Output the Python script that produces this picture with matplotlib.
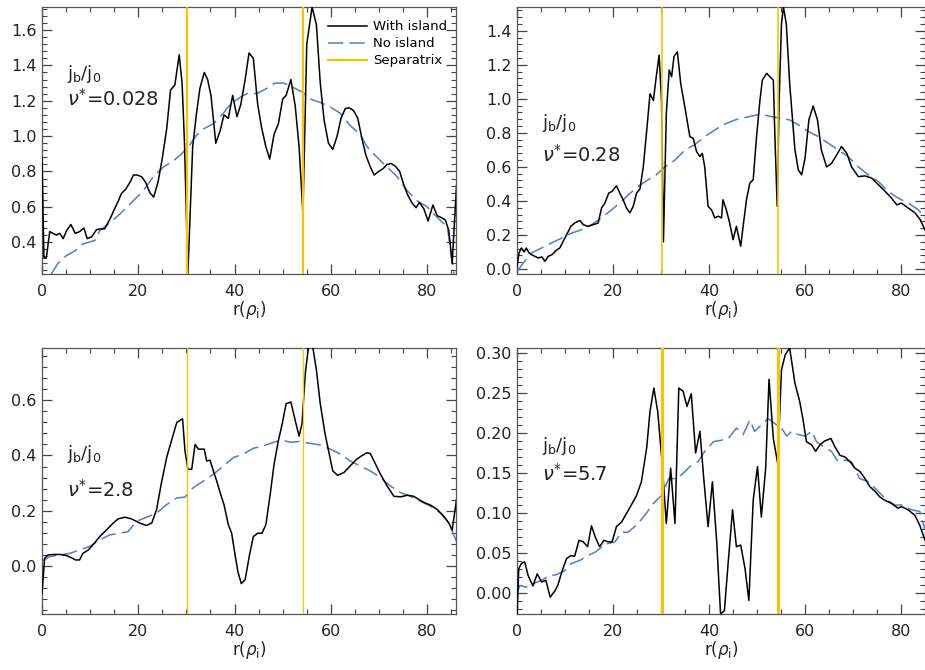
import numpy as np
import matplotlib
matplotlib.use("Agg")
import matplotlib.pyplot as plt
from matplotlib.ticker import MultipleLocator

# panel 1: nu* = 0.028
r1_with = [0, 0.4, 0.9, 1.6, 2.3, 3.0, 3.7, 4.4, 5.1, 6.0, 6.9, 7.8, 8.7, 9.4, 10.3, 11.3, 12.0, 13.0,
           14.1, 15.1, 15.8, 16.5, 17.4, 18.3, 19.0, 19.8, 20.7, 21.5, 22.4, 23.2, 24.1, 24.9, 25.9,
           26.7, 27.6, 28.5, 29.1, 29.6, 30.3, 31.3, 32.1, 32.8, 33.7, 34.4, 35.1, 36.1, 37.0, 37.8,
           38.7, 39.6, 40.5, 41.3, 42.2, 43.0, 43.9, 44.8, 45.6, 46.5, 47.3, 48.2, 49.1, 50.0, 50.7,
           51.7, 52.6, 53.4, 54.2, 55.0, 56.1, 57.0, 57.8, 58.6, 59.5, 60.4, 61.3, 62.1, 63.0, 63.8,
           64.7, 65.6, 66.5, 67.3, 68.2, 69.0, 69.9, 70.8, 71.7, 72.5, 73.4, 74.3, 75.2, 76.0, 76.9,
           77.7, 78.4, 79.3, 80.2, 81.2, 82.1, 82.9, 83.8, 84.5, 85.2, 86.1]
j1_with = [0.88, 0.31, 0.31, 0.46, 0.45, 0.44, 0.45, 0.42, 0.465, 0.50, 0.45, 0.46, 0.48, 0.42, 0.43,
           0.47, 0.475, 0.475, 0.53, 0.59, 0.63, 0.675, 0.70, 0.74, 0.78, 0.78, 0.77, 0.74, 0.68, 0.655,
           0.74, 0.86, 1.04, 1.26, 1.29, 1.46, 1.30, 0.96, 0.22, 0.94, 1.13, 1.27, 1.36, 1.32, 1.23,
           0.96, 1.03, 1.12, 1.10, 1.23, 1.11, 1.18, 1.32, 1.47, 1.44, 1.18, 1.05, 0.94, 0.87, 1.01,
           1.07, 1.21, 1.23, 1.32, 1.17, 0.94, 0.56, 1.52, 1.73, 1.63, 1.30, 1.09, 0.96, 0.925, 1.00,
           1.10, 1.156, 1.16, 1.145, 1.10, 0.98, 0.89, 0.825, 0.78, 0.80, 0.815, 0.84, 0.845, 0.83,
           0.80, 0.72, 0.665, 0.62, 0.595, 0.625, 0.59, 0.52, 0.61, 0.55, 0.54, 0.525, 0.465, 0.28, 0.72]
r1_no = [1.9, 3.3, 5.1, 6.8, 8.5, 11.0, 12.0, 14.1, 16.2, 19.0, 21.0, 23.1, 25.2, 27.3, 29.0, 30.7,
         32.1, 33.5, 35.6, 37.7, 39.1, 41.2, 42.9, 44.6, 46.7, 48.4, 50.2, 52.2, 54.0, 55.7, 57.8,
         59.9, 61.9, 64.0, 66.1, 67.5, 69.6, 71.7, 73.8, 75.9, 77.9, 80.0, 82.1, 84.2, 85.6]
j1_no = [0.22, 0.28, 0.325, 0.35, 0.39, 0.41, 0.466, 0.51, 0.56, 0.635, 0.69, 0.77, 0.825, 0.86, 0.90,
         0.95, 1.005, 1.04, 1.07, 1.13, 1.18, 1.22, 1.245, 1.24, 1.27, 1.30, 1.30, 1.275, 1.25, 1.21,
         1.19, 1.165, 1.13, 1.06, 1.01, 0.94, 0.88, 0.825, 0.77, 0.69, 0.635, 0.60, 0.54, 0.485, 0.22]

# panel 2: nu* = 0.28
r2_with = [0, 0.4, 0.9, 1.5, 1.9, 2.5, 3.0, 3.7, 4.4, 5.2, 5.8, 6.5, 7.3, 8.2, 8.9, 9.6, 10.3, 11.2,
           12.0, 13.1, 13.8, 14.8, 15.8, 16.9, 17.6, 18.3, 19.1, 19.8, 20.7, 21.4, 22.1, 22.8, 23.5,
           24.2, 24.9, 25.6, 26.3, 27.0, 27.7, 28.4, 29.0, 29.6, 30.1, 30.5, 31.1, 31.7, 32.2, 32.7,
           33.4, 34.1, 34.6, 35.3, 36.0, 36.7, 37.4, 38.1, 38.6, 39.1, 39.8, 40.5, 41.2, 41.9, 42.6,
           42.9, 43.6, 44.3, 45.0, 45.7, 46.6, 47.1, 47.8, 48.5, 49.2, 49.9, 50.6, 51.1, 52.0, 52.7,
           53.4, 53.7, 54.2, 54.6, 55.1, 55.5, 56.1, 56.8, 57.9, 58.6, 59.3, 60.0, 60.8, 61.7, 62.6,
           63.4, 64.5, 65.5, 66.6, 67.6, 68.7, 69.7, 71.1, 72.5, 73.9, 75.3, 76.7, 78.0, 79.1, 80.1,
           81.5, 82.9, 84.0, 85.0]
j2_with = [0.016, 0.094, 0.123, 0.10, 0.123, 0.094, 0.084, 0.074, 0.065, 0.070, 0.045, 0.074, 0.084,
           0.11, 0.123, 0.162, 0.20, 0.25, 0.27, 0.285, 0.26, 0.25, 0.26, 0.27, 0.358, 0.387, 0.446,
           0.456, 0.489, 0.446, 0.407, 0.358, 0.33, 0.368, 0.446, 0.47, 0.60, 0.81, 1.03, 0.99, 1.13,
           1.257, 0.99, 0.16, 0.915, 1.17, 1.13, 1.25, 1.277, 1.09, 1.01, 0.895, 0.778, 0.768, 0.69,
           0.66, 0.68, 0.60, 0.368, 0.348, 0.30, 0.31, 0.30, 0.407, 0.348, 0.27, 0.172, 0.25, 0.133,
           0.25, 0.407, 0.505, 0.524, 0.778, 0.99, 1.11, 1.15, 1.13, 1.11, 0.80, 0.368, 0.99, 1.443,
           1.54, 1.44, 1.09, 0.70, 0.583, 0.553, 0.65, 0.876, 0.958, 0.876, 0.70, 0.60, 0.62, 0.67,
           0.72, 0.68, 0.60, 0.543, 0.547, 0.534, 0.495, 0.456, 0.417, 0.377, 0.387, 0.358, 0.33,
           0.29, 0.23]
r2_no = [0, 1.3, 3.0, 5.1, 7.2, 9.2, 11.3, 13.4, 15.5, 17.6, 19.7, 21.4, 23.2, 25.2, 27.3, 29.0, 30.8,
         32.9, 35.0, 37.0, 39.1, 41.2, 42.9, 45.4, 48.2, 50.9, 53.0, 55.1, 56.8, 58.6, 60.7, 62.8,
         64.8, 66.9, 69.0, 71.1, 73.2, 75.3, 77.3, 79.4, 81.5, 83.6, 85.0]
j2_no = [-0.014, 0.035, 0.094, 0.123, 0.153, 0.18, 0.21, 0.23, 0.26, 0.30, 0.348, 0.387, 0.436, 0.485,
         0.524, 0.553, 0.60, 0.64, 0.70, 0.73, 0.778, 0.817, 0.847, 0.876, 0.895, 0.91, 0.895, 0.886,
         0.876, 0.847, 0.808, 0.778, 0.74, 0.70, 0.66, 0.60, 0.553, 0.514, 0.456, 0.417, 0.387, 0.348,
         0.30]

# panel 3: nu* = 2.8
r3_with = [0, 0.55, 1.25, 2.3, 3.7, 5.1, 6.1, 7.0, 7.8, 8.5, 9.6, 10.6, 12.0, 13.4, 14.8, 15.8, 17.2,
           18.6, 20.3, 21.7, 22.8, 23.8, 24.8, 25.9, 26.9, 28.0, 29.2, 29.7, 30.3, 31.1, 31.8, 32.5,
           33.2, 33.7, 34.2, 34.9, 35.6, 36.3, 37.0, 37.8, 38.7, 39.4, 40.1, 40.7, 41.4, 42.2, 43.1,
           43.9, 44.8, 45.7, 46.5, 47.4, 48.2, 49.1, 49.9, 50.7, 51.7, 52.6, 53.4, 54.0, 54.7, 55.4,
           56.1, 57.0, 57.8, 58.8, 60.4, 61.4, 62.7, 64.0, 65.4, 66.5, 67.5, 68.2, 69.3, 70.3, 71.7,
           73.1, 74.5, 75.9, 77.2, 78.3, 79.3, 80.7, 82.1, 83.5, 84.5, 85.2, 86.1]
j3_with = [-0.10, 0.027, 0.039, 0.041, 0.041, 0.037, 0.029, 0.021, 0.021, 0.045, 0.057, 0.076, 0.106,
           0.13, 0.155, 0.17, 0.176, 0.17, 0.155, 0.146, 0.155, 0.204, 0.30, 0.393, 0.454, 0.52, 0.533,
           0.417, 0.35, 0.35, 0.44, 0.423, 0.423, 0.423, 0.38, 0.383, 0.344, 0.307, 0.265, 0.222,
           0.149, 0.118, 0.039, -0.022, -0.065, -0.05, 0.039, 0.106, 0.118, 0.118, 0.149, 0.259,
           0.368, 0.454, 0.515, 0.588, 0.594, 0.527, 0.47, 0.515, 0.70, 0.80, 0.81, 0.71, 0.588,
           0.478, 0.344, 0.328, 0.338, 0.362, 0.387, 0.40, 0.41, 0.407, 0.368, 0.332, 0.289, 0.252,
           0.25, 0.256, 0.252, 0.24, 0.23, 0.22, 0.204, 0.179, 0.155, 0.13, 0.24]
r3_no = [0, 1.6, 3.7, 5.8, 7.8, 9.9, 12.0, 14.1, 16.2, 17.9, 19.6, 21.7, 23.8, 25.9, 28.0, 29.7, 31.4,
         33.5, 35.6, 37.7, 39.8, 41.8, 43.9, 46.0, 48.1, 49.8, 51.6, 53.6, 55.7, 57.8, 59.9, 62.0,
         64.0, 66.1, 68.2, 70.3, 72.4, 74.5, 76.5, 78.6, 80.7, 82.8, 84.5, 86.1]
j3_no = [0.018, 0.033, 0.039, 0.045, 0.057, 0.07, 0.094, 0.112, 0.118, 0.124, 0.161, 0.176, 0.191,
         0.222, 0.246, 0.249, 0.283, 0.307, 0.332, 0.362, 0.393, 0.405, 0.426, 0.435, 0.448, 0.456,
         0.448, 0.451, 0.444, 0.438, 0.423, 0.405, 0.38, 0.362, 0.344, 0.32, 0.289, 0.265, 0.252,
         0.234, 0.216, 0.191, 0.155, 0.088]

# panel 4: nu* = 5.7
r4_with = [0, 0.35, 0.9, 1.6, 2.3, 3.3, 4.2, 5.1, 6.0, 6.9, 7.9, 8.5, 9.4, 10.3, 11.2, 12.0, 12.9,
           13.8, 14.7, 15.5, 16.3, 17.2, 18.1, 19.0, 19.8, 20.7, 21.8, 22.8, 23.8, 24.9, 25.9, 27.0,
           27.7, 28.5, 29.3, 30.2, 31.1, 32.0, 32.9, 33.7, 34.6, 35.4, 36.3, 37.2, 38.1, 38.9, 39.8,
           40.7, 41.6, 42.4, 43.2, 44.0, 44.9, 45.7, 46.6, 47.5, 48.3, 49.2, 50.1, 50.9, 51.8, 52.5,
           53.4, 54.3, 55.1, 55.9, 56.8, 57.9, 58.9, 59.6, 60.3, 61.4, 62.2, 63.1, 64.1, 65.4, 66.2,
           67.3, 68.3, 69.4, 70.4, 71.4, 72.5, 73.5, 74.6, 75.6, 76.6, 78.0, 79.4, 80.1, 81.5, 82.9,
           83.9, 85.0]
j4_with = [-0.026, 0.0305, 0.037, 0.039, 0.022, 0.009, 0.024, 0.014, 0.016, -0.005, 0.003, 0.010,
           0.028, 0.043, 0.047, 0.046, 0.066, 0.064, 0.058, 0.084, 0.070, 0.058, 0.066, 0.064, 0.064,
           0.083, 0.089, 0.0995, 0.11, 0.122, 0.139, 0.181, 0.227, 0.256, 0.227, 0.164, 0.087, 0.156,
           0.087, 0.256, 0.252, 0.233, 0.249, 0.175, 0.202, 0.143, 0.083, 0.139, 0.064, -0.026,
           -0.022, 0.039, 0.104, 0.058, 0.060, 0.0305, -0.009, 0.116, 0.158, 0.095, 0.156, 0.267,
           0.193, 0.162, 0.279, 0.298, 0.306, 0.262, 0.239, 0.216, 0.189, 0.185, 0.177, 0.185, 0.190,
           0.193, 0.183, 0.172, 0.170, 0.164, 0.156, 0.152, 0.143, 0.133, 0.127, 0.120, 0.116, 0.112,
           0.106, 0.108, 0.104, 0.097, 0.085, 0.066]
r4_no = [0, 0.6, 1.9, 3.3, 5.1, 6.8, 8.2, 9.9, 11.3, 13.1, 14.8, 16.5, 18.3, 20.4, 21.8, 23.1, 24.9,
         26.6, 28.4, 30.1, 31.6, 33.2, 34.3, 36.0, 37.7, 39.1, 40.9, 42.6, 44.0, 45.7, 47.1, 48.5,
         49.5, 50.9, 52.3, 54.1, 55.1, 56.2, 57.2, 58.6, 60.0, 61.4, 62.4, 63.8, 65.5, 66.9, 68.3,
         69.7, 71.4, 73.2, 74.6, 76.7, 78.7, 80.1, 82.2, 83.9, 85.0]
j4_no = [0.001, 0.0096, 0.0075, 0.0117, 0.016, 0.022, 0.023, 0.028, 0.037, 0.041, 0.047, 0.052, 0.061,
         0.064, 0.076, 0.076, 0.085, 0.097, 0.112, 0.122, 0.143, 0.143, 0.148, 0.158, 0.164, 0.177,
         0.189, 0.191, 0.193, 0.206, 0.198, 0.216, 0.202, 0.21, 0.218, 0.21, 0.206, 0.196, 0.202,
         0.198, 0.196, 0.202, 0.189, 0.183, 0.177, 0.164, 0.166, 0.164, 0.143, 0.139, 0.131, 0.118,
         0.11, 0.11, 0.104, 0.102, 0.079]

separatrix = [30.2, 54.3]
nu_labels = ["0.028", "0.28", "2.8", "5.7"]

panels = [
    dict(rw=r1_with, jw=j1_with, rn=r1_no, jn=j1_no, xlim=(0, 86), ylim=(0.22, 1.73),
         ymaj=0.2, pos=[0.0454, 0.591, 0.4476, 0.3985], txt=(0.75, 0.655), slw=1.6),
    dict(rw=r2_with, jw=j2_with, rn=r2_no, jn=j2_no, xlim=(0, 85), ylim=(-0.03, 1.54),
         ymaj=0.2, pos=[0.559, 0.591, 0.441, 0.3985], txt=(0.565, 0.445), slw=1.2),
    dict(rw=r3_with, jw=j3_with, rn=r3_no, jn=j3_no, xlim=(0, 86), ylim=(-0.175, 0.79),
         ymaj=0.2, pos=[0.0454, 0.0836, 0.4476, 0.397], txt=(0.60, 0.465), slw=1.0),
    dict(rw=r4_with, jw=j4_with, rn=r4_no, jn=j4_no, xlim=(0, 85), ylim=(-0.026, 0.306),
         ymaj=0.05, pos=[0.559, 0.0836, 0.441, 0.397], txt=(0.63, 0.525), slw=2.2),
]

blue = '#4a80c8'
yellow = '#ffc000'

fig = plt.figure(figsize=(9.25, 6.7), dpi=100)

for i, p in enumerate(panels):
    ax = fig.add_axes(p['pos'])
    ax.plot(p['rw'], p['jw'], color='black', lw=1.1, label='With island', zorder=3)
    ax.plot(p['rn'], p['jn'], color=blue, lw=1.1, dashes=(10, 4), label='No island', zorder=2)
    for k, s in enumerate(separatrix):
        ax.axvline(s, color=yellow, lw=p['slw'], zorder=4,
                   label='Separatrix' if k == 0 else None)
    ax.set_xlim(*p['xlim'])
    ax.set_ylim(*p['ylim'])
    ax.xaxis.set_major_locator(MultipleLocator(20))
    ax.xaxis.set_minor_locator(MultipleLocator(5))
    ax.yaxis.set_major_locator(MultipleLocator(p['ymaj']))
    ax.yaxis.set_minor_locator(MultipleLocator(p['ymaj'] / 5))
    if p['ymaj'] == 0.05:
        ax.yaxis.set_major_formatter(plt.FormatStrFormatter('%.2f'))
    else:
        ax.yaxis.set_major_formatter(plt.FormatStrFormatter('%.1f'))
    ax.tick_params(which='both', direction='in', top=True, right=True, colors='#444444',
                   labelcolor='#222222', labelsize=11.5)
    ax.tick_params(which='major', length=7, width=0.9)
    ax.tick_params(which='minor', length=3.5, width=0.8)
    ax.tick_params(axis='x', pad=7)
    ax.tick_params(axis='y', pad=4)
    for sp in ax.spines.values():
        sp.set_color('#555555')
        sp.set_linewidth(0.9)
    ax.set_xlabel(r'r($\rho_{\rm i}$)', fontsize=12, labelpad=0, color='#222222')
    ax.text(0.06, p['txt'][0], r'j$_{\rm b}$/j$_0$', transform=ax.transAxes,
            fontsize=13, va='center', color='#222222')
    ax.text(0.06, p['txt'][1], r'$\nu^{*}$=' + nu_labels[i], transform=ax.transAxes,
            fontsize=14, va='center', color='#222222')
    if i == 0:
        ax.legend(loc='upper right', bbox_to_anchor=(1.0, 0.985), frameon=False, fontsize=9.5,
                  handlelength=3.0, labelspacing=0.3, handletextpad=0.4, borderaxespad=0.3)

fig.savefig('out.png', dpi=100)
